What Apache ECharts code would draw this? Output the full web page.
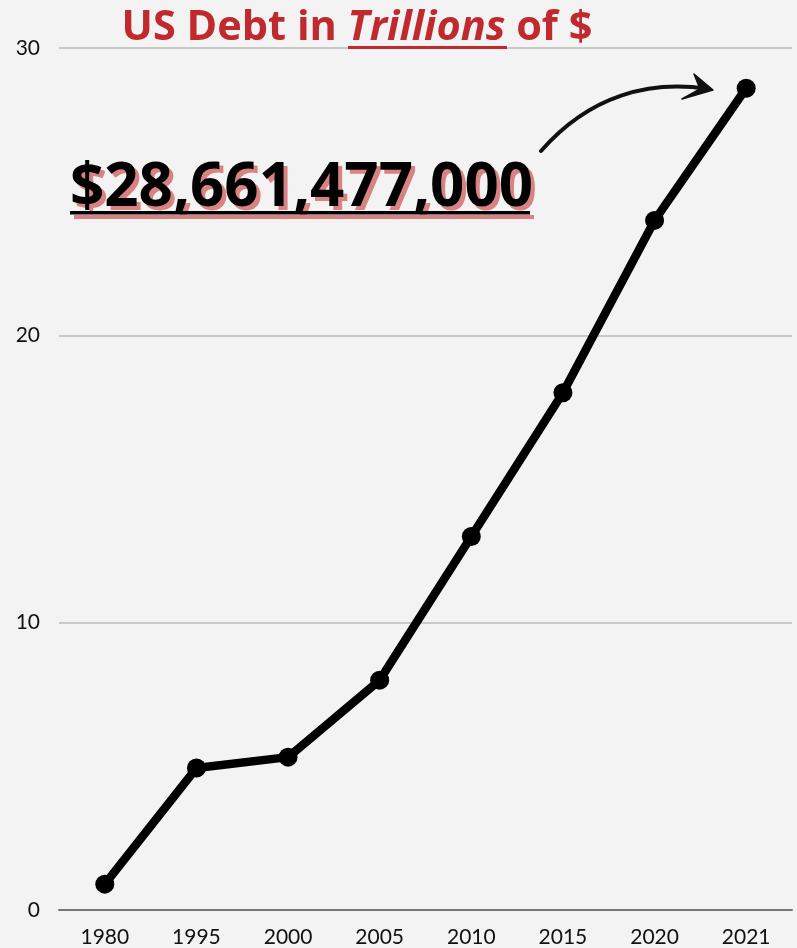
<!DOCTYPE html>
<html>
<head>
<meta charset="utf-8">
<script src="https://cdn.jsdelivr.net/npm/echarts@6/dist/echarts.min.js"></script>
<style>
  html, body { margin: 0; padding: 0; background: #f3f3f3; }
  #chart { width: 797px; height: 948px; }
</style>
</head>
<body>
<div id="chart"></div>
<script>
  // data
  const years = ['1980', '1995', '2000', '2005', '2010', '2015', '2020', '2021'];
  const debt = [0.9, 4.94, 5.32, 8.0, 13.0, 18.0, 24.0, 28.6];
  const yTicks = [0, 10, 20, 30];

  const chart = echarts.init(document.getElementById('chart'));
  chart.setOption({
    backgroundColor: '#f3f3f3',
    grid: { left: 59, right: 5, top: 48, bottom: 38 },
    xAxis: {
      type: 'category',
      data: years,
      boundaryGap: true,
      axisLine: { lineStyle: { color: '#777', width: 2 } },
      axisTick: { show: false },
      axisLabel: { color: '#111', fontFamily: 'Lato', fontSize: 21, margin: 17 }
    },
    yAxis: {
      type: 'value',
      min: yTicks[0],
      max: yTicks[yTicks.length - 1],
      interval: 10,
      axisLabel: { color: '#111', fontFamily: 'Lato', fontSize: 21, margin: 19 },
      splitLine: { lineStyle: { color: '#bbb', width: 1.5 } }
    },
    series: [{
      type: 'line',
      data: debt,
      symbol: 'circle',
      symbolSize: 19,
      lineStyle: { color: '#000', width: 8.5 },
      itemStyle: { color: '#000' }
    }],
    graphic: [
      // title
      {
        type: 'text', x: 357, y: 28, z: 11,
        style: {
          text: '{a|US Debt in }{b|Trillions}{a| of $}',
          align: 'center', verticalAlign: 'middle',
          rich: {
            a: { fontFamily: 'Open Sans', fontWeight: 'bold', fontSize: 41.5, fill: '#c0292d' },
            b: { fontFamily: 'Open Sans', fontWeight: 'bold', fontStyle: 'italic', fontSize: 41.5, fill: '#c0292d' }
          }
        }
      },
      { type: 'rect', shape: { x: 348, y: 46, width: 159, height: 3 }, style: { fill: '#c0292d' }, z: 11 },
      // big number: red shadow, then black
      {
        type: 'text', x: 74, y: 223, z: 11,
        style: { text: '$28,661,477,000', fontFamily: 'Open Sans', fontWeight: 'bold', fontSize: 60,
          fill: '#d98282', verticalAlign: 'bottom' }
      },
      { type: 'rect', shape: { x: 74, y: 215, width: 460, height: 4 }, style: { fill: '#d98282' }, z: 11 },
      {
        type: 'text', x: 70, y: 219, z: 12,
        style: { text: '$28,661,477,000', fontFamily: 'Open Sans', fontWeight: 'bold', fontSize: 60,
          fill: '#000', verticalAlign: 'bottom' }
      },
      { type: 'rect', shape: { x: 70, y: 211, width: 460, height: 3.5 }, style: { fill: '#000' }, z: 12 },
      // arrow
      {
        type: 'bezierCurve', z: 12,
        shape: { x1: 541, y1: 151, x2: 708, y2: 89, cpx1: 590, cpy1: 95, cpx2: 650, cpy2: 80 },
        style: { stroke: '#111', lineWidth: 4, fill: null, lineCap: 'round' }
      },
      {
        type: 'polygon', z: 12,
        shape: { points: [[694, 74], [713, 90], [682, 99], [700, 89]] },
        style: { fill: '#111', stroke: '#111', lineWidth: 1.5, lineJoin: 'round' }
      }
    ]
  });
</script>
</body>
</html>
